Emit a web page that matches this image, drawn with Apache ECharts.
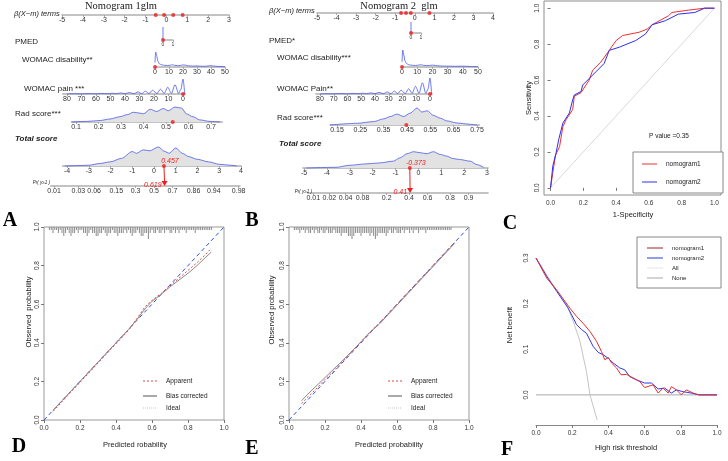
<!DOCTYPE html>
<html>
<head>
<meta charset="utf-8" />
<script src="https://cdn.jsdelivr.net/npm/echarts@6/dist/echarts.min.js"></script>
<style>html,body{margin:0;padding:0;background:#fff}#main{width:728px;height:461px}</style>
</head>
<body>
<div id="main"></div>
<script>
// ---------- A: nomogram 1 ----------
var aPointsTicks = [-5,-4,-3,-2,-1,0,1,2,3];
var aPointsDots = [-0.51,-0.11,0.33,0.78];
var aPmedX = [0,0], aPmedD = [0,1];
var aDisTicks = [0,10,20,30,40,50];
var aDisX = [0,0.5,1.2,2,3,4,5,7,9,11,12.5,14,16,18,20,22,24,27,30,33,36,38,40,42,45,48,50];
var aDisD = [0.3,1.0,0.75,0.4,0.22,0.17,0.14,0.11,0.1,0.12,0.15,0.11,0.09,0.1,0.14,0.12,0.08,0.06,0.07,0.05,0.05,0.07,0.09,0.06,0.04,0.03,0.02];
var aPainTicks = [0,10,20,30,40,50,60,70,80];
var aPainX = [-1.2,0,1.5,3,5.5,8,10.5,13,15.5,18,21,23.5,26,28.5,31,34,37,40,43,46,49,52,56,60,65,70,75,80];
var aPainD = [0,1,0.3,0.04,0.62,0.04,0.45,0.04,0.32,0.03,0.25,0.03,0.19,0.02,0.14,0.02,0.1,0.02,0.07,0.02,0.05,0.015,0.04,0.01,0.03,0.01,0.02,0.01];
var aRadTicks = [0.1,0.2,0.3,0.4,0.5,0.6,0.7];
var aRadX = [0.081,0.15,0.207,0.25,0.295,0.33,0.355,0.38,0.40,0.43,0.458,0.488,0.51,0.54,0.57,0.59,0.62,0.65,0.695,0.74];
var aRadD = [0,0.04,0.1,0.2,0.35,0.5,0.65,0.6,0.55,0.85,0.7,0.9,0.75,1.0,0.92,0.55,0.35,0.14,0.04,0];
var aRadDot = [0.53];
var aTotTicks = [-4,-3,-2,-1,0,1,2,3,4];
var aTotX = [-4.1,-3.5,-3,-2.5,-2,-1.5,-1,-0.8,-0.5,-0.2,0.2,0.5,0.7,1.0,1.3,1.6,2,2.5,3,3.5,3.8];
var aTotD = [0,0.02,0.04,0.13,0.22,0.4,0.76,0.67,0.85,0.8,1,0.76,0.67,0.95,0.67,0.49,0.35,0.22,0.09,0.04,0];
var aTotScore = 0.457, aProb = 0.619;
var aPrTicks = [0.01,0.03,0.06,0.15,0.3,0.5,0.7,0.86,0.94,0.98];

// ---------- B: nomogram 2 ----------
var bPointsTicks = [-5,-4,-3,-2,-1,0,1,2,3,4];
var bPointsDots = [-0.7,-0.45,-0.2,0.75];
var bPmedX = [0,0], bPmedD = [0,1];
var bDisTicks = [0,10,20,30,40,50];
var bDisX = [0,0.5,1.2,2,3,4,5,7,9,11,12.5,14,16,18,20,22,25,28,31,35,40,45,50];
var bDisD = [0.3,1.0,0.7,0.35,0.2,0.15,0.12,0.1,0.09,0.11,0.13,0.1,0.08,0.09,0.11,0.09,0.06,0.05,0.05,0.04,0.05,0.03,0.02];
var bPainTicks = [0,10,20,30,40,50,60,70,80];
var bPainX = [-1.2,0,1.5,3,5.5,8,10.5,13,15.5,18,21,23.5,26,28.5,31,34,37,40,43,46,49,52,56,60,65,70,75,80];
var bPainD = [0,1,0.3,0.04,0.7,0.04,0.48,0.04,0.33,0.03,0.24,0.03,0.18,0.02,0.13,0.02,0.1,0.02,0.07,0.02,0.05,0.015,0.04,0.01,0.03,0.01,0.02,0.01];
var bRadTicks = [0.15,0.25,0.35,0.45,0.55,0.65,0.75];
var bRadX = [0.121,0.236,0.307,0.35,0.379,0.407,0.436,0.464,0.493,0.514,0.536,0.564,0.593,0.621,0.664,0.721,0.75];
var bRadD = [0,0.1,0.2,0.36,0.5,0.64,0.5,0.7,1.0,0.76,0.84,0.56,0.4,0.24,0.12,0.04,0];
var bRadDot = [0.447];
var bTotTicks = [-5,-4,-3,-2,-1,0,1,2,3];
var bTotX = [-4.9,-3.6,-3,-2.3,-1.7,-1.1,-0.8,-0.5,-0.2,0.07,0.37,0.66,0.95,1.24,1.5,1.8,2.27,2.56,2.85];
var bTotD = [0,0.04,0.16,0.24,0.3,0.4,0.6,0.84,0.96,0.9,0.84,0.96,0.8,0.7,0.56,0.5,0.4,0.2,0.04];
var bTotScore = -0.373, bProb = 0.41;
var bPrTicks = [0.01,0.02,0.04,0.08,0.2,0.4,0.6,0.8,0.9];

// ---------- C: ROC ----------
var rocFpr1 = [0,0.014,0.03,0.055,0.075,0.095,0.135,0.145,0.186,0.236,0.257,0.307,0.358,0.40,0.44,0.54,0.59,0.62,0.72,0.74,0.84,0.94,1];
var rocTpr1 = [0,0.086,0.18,0.23,0.34,0.38,0.435,0.51,0.53,0.60,0.655,0.70,0.765,0.82,0.848,0.866,0.884,0.908,0.958,0.976,0.989,1,1];
var rocFpr2 = [0,0.014,0.034,0.05,0.075,0.115,0.135,0.145,0.186,0.196,0.277,0.327,0.358,0.42,0.52,0.58,0.62,0.70,0.78,0.88,0.94,1];
var rocTpr2 = [0,0.123,0.196,0.27,0.36,0.417,0.49,0.517,0.536,0.572,0.646,0.692,0.765,0.783,0.82,0.857,0.908,0.93,0.967,0.976,1,1];

// ---------- D / E: calibration ----------
var calDX = [0.05,0.1,0.2,0.3,0.4,0.47,0.52,0.56,0.6,0.65,0.7,0.75,0.8,0.85,0.9,0.93];
var calDApp = [0.045,0.095,0.195,0.295,0.395,0.465,0.53,0.585,0.62,0.655,0.695,0.735,0.775,0.815,0.86,0.89];
var calDBias = [0.05,0.1,0.2,0.3,0.4,0.47,0.525,0.575,0.615,0.65,0.69,0.725,0.76,0.80,0.845,0.87];
var rugD = [1,1,2,1,1,2,1,2,3,2,1,2,3,2,2,1,2,1,1,2,2,3,2,1,2,2,3,3,2,2,1,2,3,2,2,1,2,2,3,2,2,2,1,2,1,2,3,2,2,1,2,3,3,2,2,4,2,1,2,2,1,2,2,1,2,1,1,2,2,1,2,1,2,1,1,1,2,1,1,1,1,2,1,1,1,1,1,1,1,1,1];
var calEX = [0.07,0.1,0.15,0.2,0.25,0.3,0.4,0.45,0.5,0.55,0.6,0.7,0.8,0.9,0.92];
var calEApp = [0.085,0.115,0.16,0.21,0.255,0.305,0.405,0.455,0.5,0.55,0.6,0.7,0.8,0.9,0.92];
var calEBias = [0.1,0.13,0.175,0.22,0.265,0.31,0.405,0.455,0.495,0.545,0.595,0.695,0.795,0.895,0.915];
var rugE = [1,1,1,2,1,1,2,1,2,2,1,2,1,2,2,1,2,2,1,2,2,2,1,2,2,2,3,2,2,2,3,3,4,3,2,2,2,3,2,2,2,2,3,2,3,4,3,2,2,2,2,3,2,1,2,2,1,2,2,2,1,2,1,1,2,1,2,1,1,2,1,1,1,2,1,1,1,1,1,1,1,1,1,1,1,1,1,1];

// ---------- F: decision curve ----------
var dcaT1 = [0,0.059,0.114,0.1875,0.224,0.26,0.298,0.335,0.362,0.38,0.40,0.417,0.445,0.47,0.5,0.537,0.574,0.60,0.647,0.675,0.702,0.73,0.748,0.776,0.803,0.83,0.868,0.9,1];
var dcaNb1 = [0.3,0.256,0.23,0.19,0.172,0.157,0.139,0.117,0.095,0.077,0.082,0.07,0.059,0.044,0.045,0.037,0.029,0.016,0.022,0.004,0.015,0.004,0.018,0.011,0,0.011,0.004,0,0];
var dcaT2 = [0,0.059,0.114,0.178,0.224,0.252,0.279,0.316,0.344,0.371,0.40,0.426,0.463,0.49,0.518,0.555,0.60,0.638,0.675,0.71,0.748,0.776,0.812,0.858,0.9,1];
var dcaNb2 = [0.3,0.26,0.227,0.19,0.154,0.143,0.135,0.106,0.093,0.088,0.08,0.07,0.059,0.055,0.04,0.033,0.026,0.026,0.013,0.015,0.004,0.011,0.007,0.004,0,0];
var dcaAllT = [0,0.06,0.114,0.169,0.206,0.243,0.279,0.298,0.338];
var dcaAllNb = [0.3,0.262,0.23,0.198,0.161,0.117,0.051,0,-0.055];
var dcaNoneT = [0,1], dcaNoneNb = [0,0];

// ---------- building ----------
var SANS = 'Liberation Sans, Arial, sans-serif';
var SERIF = 'Liberation Serif, Times New Roman, serif';
var grids = [], xAxes = [], yAxes = [], series = [], gfx = [];

function lin(a, ax, b, bx) { return function (v) { return ax + (v - a) * (bx - ax) / (b - a); }; }
function logit(p) { return Math.log(p / (1 - p)); }
function pairs(xs, ys) { return xs.map(function (x, k) { return [x, ys[k]]; }); }
function fmt1(v) { return v.toFixed(1); }

function nomoRow(o) {
  var gi = grids.length, xi = xAxes.length, yi = yAxes.length;
  var p0 = o.px(o.vmin), p1 = o.px(o.vmax);
  grids.push({ left: Math.min(p0, p1), width: Math.abs(p1 - p0), top: o.axisY - o.h, height: o.h });
  xAxes.push({
    gridIndex: gi, type: 'value', min: o.vmin, max: o.vmax, inverse: p1 < p0,
    axisLine: { show: true, onZero: false, lineStyle: { color: '#b0b0b0', width: 1.5 } },
    axisTick: { show: true, customValues: o.ticks, length: 2, lineStyle: { color: '#999', width: 0.8 } },
    axisLabel: { customValues: o.ticks, fontSize: o.fs || 7, margin: 2, color: '#333', fontFamily: SANS, formatter: o.fmt },
    splitLine: { show: false }
  });
  yAxes.push({ gridIndex: gi, type: 'value', min: 0, max: 1, show: false });
  if (o.dx) {
    var s = { type: 'line', xAxisIndex: xi, yAxisIndex: yi, data: pairs(o.dx, o.dy), smooth: o.smooth === undefined ? 0.3 : o.smooth,
      smoothMonotone: 'x', showSymbol: false, clip: false, silent: true, lineStyle: { color: '#4a5ae8', width: 0.8 } };
    if (o.fill) s.areaStyle = { color: '#e2e2e2', opacity: 1 };
    series.push(s);
  }
  if (o.dots) series.push({ type: 'scatter', xAxisIndex: xi, yAxisIndex: yi, data: o.dots.map(function (v) { return [v, 0]; }),
    symbolSize: 4, itemStyle: { color: '#ee1c1c' }, clip: false, z: 5, silent: true });
  return xi;
}

function txt(x, y, s, opt) {
  opt = opt || {};
  gfx.push({ type: 'text', x: x, y: y, rotation: opt.rot || 0, z: 100, silent: true,
    style: { text: s, fill: opt.color || '#222', font: (opt.style || 'normal') + ' ' + (opt.weight || 'normal') + ' ' + (opt.size || 8) + 'px ' + (opt.family || SANS),
      textAlign: opt.align || 'left', textVerticalAlign: 'middle' } });
}
function seg(x1, y1, x2, y2, color, w, dash) {
  var st = { stroke: color, lineWidth: w };
  if (dash) st.lineDash = dash;
  gfx.push({ type: 'line', z: 100, silent: true, shape: { x1: x1, y1: y1, x2: x2, y2: y2 }, style: st });
}

function nomogram(P) {
  var ids = {};
  nomoRow({ px: P.ptsPx, vmin: P.ptsTicks[0], vmax: P.ptsTicks[P.ptsTicks.length - 1], axisY: P.ptsY, h: 4, ticks: P.ptsTicks, dots: P.ptsDots });
  nomoRow({ px: P.pmedPx, vmin: 0, vmax: 1, axisY: P.pmedY, h: P.pmedH, ticks: [0, 1], fs: 5, dx: P.pmedX, dy: P.pmedD, smooth: false, dots: [0] });
  nomoRow({ px: P.disPx, vmin: 0, vmax: 50, axisY: P.disY, h: P.disH, ticks: P.disTicks, dx: P.disX, dy: P.disD, dots: [0] });
  nomoRow({ px: P.painPx, vmin: -1.5, vmax: 83, axisY: P.painY, h: P.painH, ticks: P.painTicks, dx: P.painX, dy: P.painD, dots: [0] });
  nomoRow({ px: P.radPx, vmin: P.radMin, vmax: P.radMax, axisY: P.radY, h: P.radH, ticks: P.radTicks, dx: P.radX, dy: P.radD, fill: true, dots: P.radDot,
    fmt: function (v) { return +v.toFixed(2) + ''; } });
  ids.tot = nomoRow({ px: P.totPx, vmin: P.totMin, vmax: P.totMax, axisY: P.totY, h: P.totH, ticks: P.totTicks, dx: P.totX, dy: P.totD, fill: true, dots: [P.score] });
  var prL = P.prTicks.map(logit);
  ids.pr = nomoRow({ px: P.totPx, vmin: P.prMin, vmax: P.prMax, axisY: P.prY, h: 3, ticks: prL,
    fmt: function (v) { var k = 0; prL.forEach(function (l, j) { if (Math.abs(l - v) < Math.abs(prL[k] - v)) k = j; }); return String(P.prTicks[k]); } });
  return ids;
}

var A = nomogram({
  ptsPx: lin(-5, 62, 3, 229), ptsY: 15, ptsTicks: aPointsTicks, ptsDots: aPointsDots,
  pmedPx: lin(0, 163, 1, 173), pmedY: 40, pmedH: 13, pmedX: aPmedX, pmedD: aPmedD,
  disPx: lin(0, 155, 50, 225), disY: 67, disH: 15, disTicks: aDisTicks, disX: aDisX, disD: aDisD,
  painPx: lin(80, 67, 0, 183), painY: 94, painH: 15, painTicks: aPainTicks, painX: aPainX, painD: aPainD,
  radPx: lin(0.1, 76, 0.7, 211), radMin: 0.08, radMax: 0.75, radY: 122, radH: 15, radTicks: aRadTicks, radX: aRadX, radD: aRadD, radDot: aRadDot,
  totPx: lin(-4, 67, 4, 241), totMin: -4.2, totMax: 4, totY: 166, totH: 19, totTicks: aTotTicks, totX: aTotX, totD: aTotD, score: aTotScore,
  prMin: -4.75, prMax: 3.95, prY: 186, prTicks: aPrTicks
});
var B = nomogram({
  ptsPx: lin(-5, 317, 4, 493), ptsY: 13, ptsTicks: bPointsTicks, ptsDots: bPointsDots,
  pmedPx: lin(0, 411, 1, 421), pmedY: 33, pmedH: 11, pmedX: bPmedX, pmedD: bPmedD,
  disPx: lin(0, 402, 50, 478), disY: 67, disH: 17, disTicks: bDisTicks, disX: bDisX, disD: bDisD,
  painPx: lin(80, 320, 0, 430), painY: 94, painH: 16, painTicks: bPainTicks, painX: bPainX, painD: bPainD,
  radPx: lin(0.15, 337, 0.75, 477), radMin: 0.12, radMax: 0.76, radY: 125, radH: 17, radTicks: bRadTicks, radX: bRadX, radD: bRadD, radDot: bRadDot,
  totPx: lin(-5, 304, 3, 487), totMin: -5.05, totMax: 3.05, totY: 168, totH: 17, totTicks: bTotTicks, totX: bTotX, totD: bTotD, score: bTotScore,
  prMin: -4.85, prMax: 3.05, prY: 193, prTicks: bPrTicks
});

var ticks01 = [0, 0.2, 0.4, 0.6, 0.8, 1];
function boxAxes(gi, xmin, xmax, ymin, ymax) {
  var ax = { xi: xAxes.length, yi: yAxes.length };
  xAxes.push({ gridIndex: gi, type: 'value', min: xmin, max: xmax, splitLine: { show: false },
    axisLine: { show: false }, axisTick: { customValues: ticks01, length: 3, lineStyle: { color: '#777' } },
    axisLabel: { customValues: ticks01, fontSize: 6.5, margin: 5, color: '#333', fontFamily: SANS, formatter: fmt1 } });
  yAxes.push({ gridIndex: gi, type: 'value', min: ymin, max: ymax, splitLine: { show: false },
    axisLine: { show: false }, axisTick: { customValues: ticks01, length: 3, lineStyle: { color: '#777' } },
    axisLabel: { customValues: ticks01, fontSize: 6.5, margin: 3, rotate: 90, color: '#333', fontFamily: SANS, formatter: fmt1 } });
  return ax;
}
function ln(ax, data, color, w, type) {
  series.push({ type: 'line', xAxisIndex: ax.xi, yAxisIndex: ax.yi, data: data, showSymbol: false, silent: true,
    lineStyle: { color: color, width: w, type: type || 'solid' }, z: 3 });
}

// C
var gC = grids.length;
grids.push({ left: 544, top: 1, width: 177, height: 194, show: true, borderColor: '#8c8c8c', borderWidth: 1 });
var axC = boxAxes(gC, -0.04, 1.04, -0.04, 1.04);
ln(axC, [[0, 0], [1, 1]], '#cfcfcf', 0.8);
ln(axC, pairs(rocFpr1, rocTpr1), '#ee3030', 1);
ln(axC, pairs(rocFpr2, rocTpr2), '#2e2ef0', 1);

// D, E
function calib(left, xs, app, bias, rug) {
  var gi = grids.length;
  grids.push({ left: left, top: 227, width: 180, height: 193, show: true, borderColor: '#999', borderWidth: 1 });
  var ax = boxAxes(gi, 0, 1, 0, 1);
  var ry = yAxes.length;
  yAxes.push({ gridIndex: gi, type: 'value', min: 0, max: 64, inverse: true, show: false });
  series.push({ type: 'bar', xAxisIndex: ax.xi, yAxisIndex: ry, barWidth: 0.7, silent: true, itemStyle: { color: '#8a8a8a' },
    data: rug.map(function (c, k) { return [0.03 + 0.01 * k, c]; }) });
  ln(ax, [[0, 0], [1, 1]], '#3050e0', 1, [4, 3]);
  ln(ax, pairs(xs, bias), '#8c8c8c', 1);
  ln(ax, pairs(xs, app), '#e04848', 1, [2, 2]);
  return ax;
}
calib(44, calDX, calDApp, calDBias, rugD);
calib(289, calEX, calEApp, calEBias, rugE);

// F
var gF = grids.length;
grids.push({ left: 536, top: 258, width: 181, height: 167 });
var axF = { xi: xAxes.length, yi: yAxes.length };
xAxes.push({ gridIndex: gF, type: 'value', min: 0, max: 1, splitLine: { show: false },
  axisLine: { show: true, onZero: false, lineStyle: { color: '#888', width: 1 } },
  axisTick: { customValues: ticks01, length: 3, lineStyle: { color: '#777' } },
  axisLabel: { customValues: ticks01, fontSize: 6.5, margin: 5, color: '#333', fontFamily: SANS, formatter: fmt1 } });
yAxes.push({ gridIndex: gF, type: 'value', min: -0.066, max: 0.3, splitLine: { show: false },
  axisLine: { show: false }, axisTick: { show: false },
  axisLabel: { customValues: [0, 0.1, 0.2, 0.3], fontSize: 6.5, margin: 6, rotate: 90, color: '#333', fontFamily: SANS, formatter: fmt1 } });
ln(axF, pairs(dcaNoneT, dcaNoneNb), '#a8a8a8', 1);
ln(axF, pairs(dcaAllT, dcaAllNb), '#c4c4c4', 1);
ln(axF, pairs(dcaT2, dcaNb2), '#3434ee', 1);
ln(axF, pairs(dcaT1, dcaNb1), '#e43030', 1);

// ---------- texts ----------
txt(121, 6, 'Nomogram 1glm', { family: SERIF, size: 10.5, align: 'center' });
txt(14, 14, 'β(X−m) terms', { style: 'italic', size: 7.5 });
txt(15, 42, 'PMED');
txt(22, 60, 'WOMAC disability**');
txt(24, 89, 'WOMAC pain ***');
txt(15, 114, 'Rad score***');
txt(15, 139, 'Total score', { style: 'italic', weight: 'bold' });
txt(50, 183, 'Pr( y≥1 )', { style: 'italic', size: 4.5, align: 'right' });

txt(399, 6, 'Nomogram 2  glm', { family: SERIF, size: 10.5, align: 'center' });
txt(269, 11, 'β(X−m) terms', { style: 'italic', size: 7.5 });
txt(269, 41, 'PMED*');
txt(277, 58, 'WOMAC disability***');
txt(277, 89, 'WOMAC Pain**');
txt(277, 118, 'Rad score***');
txt(279, 144, 'Total score', { style: 'italic', weight: 'bold' });
txt(312, 192, 'Pr( y≥1 )', { style: 'italic', size: 4.5, align: 'right' });

txt(633, 215, '1-Specificity', { size: 7.5, align: 'center' });
txt(529, 98, 'Sensitivity', { size: 7.5, align: 'center', rot: Math.PI / 2 });
txt(669, 136, 'P value =0.35', { size: 6.5, align: 'center' });
gfx.push({ type: 'rect', z: 99, silent: true, shape: { x: 633, y: 152, width: 90, height: 41 }, style: { fill: '#fff', stroke: '#888', lineWidth: 1 } });
seg(642, 164, 657, 164, '#ee3030', 1); txt(666, 164, 'nomogram1', { size: 6.5 });
seg(642, 182, 657, 182, '#2e2ef0', 1); txt(666, 182, 'nomogram2', { size: 6.5 });

function calLegend(x, tx) {
  seg(x, 381, x + 14, 381, '#e04848', 1, [2, 2]); txt(tx, 381, 'Apparent', { size: 6.5 });
  seg(x, 396, x + 14, 396, '#8c8c8c', 1.5); txt(tx, 396, 'Bias corrected', { size: 6.5 });
  seg(x, 408, x + 14, 408, '#c8c8c8', 1, [1, 1]); txt(tx, 408, 'Ideal', { size: 6.5 });
}
calLegend(143, 166);
calLegend(388, 411);
txt(29, 312, 'Observed  probability', { size: 7.5, align: 'center', rot: Math.PI / 2 });
txt(135, 445, 'Predicted robability', { size: 7.5, align: 'center' });
txt(272, 310, 'Observed probability', { size: 7.5, align: 'center', rot: Math.PI / 2 });
txt(389, 445, 'Predicted probability', { size: 7.5, align: 'center' });

txt(510, 325, 'Net benefit', { size: 7.5, align: 'center', rot: Math.PI / 2 });
txt(626, 448, 'High risk threshold', { size: 7.5, align: 'center' });
gfx.push({ type: 'rect', z: 99, silent: true, shape: { x: 637, y: 237, width: 84, height: 51 }, style: { fill: '#fff', stroke: '#888', lineWidth: 1 } });
seg(647, 248, 663, 248, '#a02020', 1); txt(672, 248, 'nomogram1', { size: 6 });
seg(647, 258, 663, 258, '#8f9ff0', 2); txt(672, 258, 'nomogram2', { size: 6 });
seg(647, 268, 663, 268, '#e6e6e6', 1); txt(672, 268, 'All', { size: 6 });
seg(647, 278, 663, 278, '#a8a8a8', 1); txt(672, 278, 'None', { size: 6 });

var L = { family: SERIF, weight: 'bold', size: 20, align: 'center', color: '#000' };
txt(10, 221, 'A', L); txt(252, 221, 'B', L); txt(510, 224, 'C', L);
txt(19, 447, 'D', L); txt(252, 449, 'E', L); txt(507, 450, 'F', L);

var chart = echarts.init(document.getElementById('main'));
chart.setOption({
  animation: false, backgroundColor: '#fff',
  grid: grids, xAxis: xAxes, yAxis: yAxes, series: series
});

// red projection arrows from the total score to the probability axis
function arrow(ids, score, prob, yTot, yPr) {
  var x = chart.convertToPixel({ xAxisIndex: ids.tot }, score);
  var pr = chart.convertToPixel({ xAxisIndex: ids.pr }, logit(prob));
  seg(x, yTot, pr, yPr - 4, '#ee1c1c', 1);
  gfx.push({ type: 'polygon', z: 101, silent: true, shape: { points: [[pr - 3, yPr - 5], [pr + 3, yPr - 5], [pr, yPr]] }, style: { fill: '#ee1c1c' } });
  txt(x + 6, yTot - 5, String(score), { style: 'italic', size: 7, color: '#ee1c1c', align: 'center' });
  txt(pr - 3, yPr - 1, String(prob), { style: 'italic', size: 7, color: '#ee1c1c', align: 'right' });
}
arrow(A, aTotScore, aProb, 166, 186);
arrow(B, bTotScore, bProb, 168, 193);
chart.setOption({ graphic: { elements: gfx } });
</script>
</body>
</html>
